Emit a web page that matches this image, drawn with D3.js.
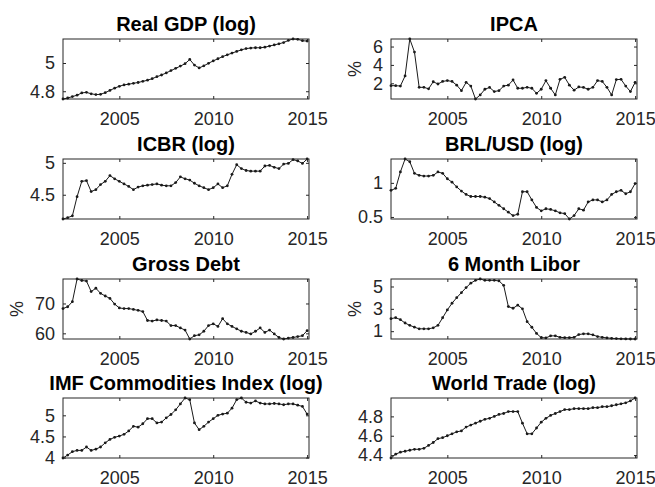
<!DOCTYPE html>
<html lang="en">
<head>
    <meta charset="UTF-8">
    <title>Brazil macro series</title>
    <script src="https://d3js.org/d3.v7.min.js"></script>
    <style>
        body { margin: 0; background: #fff; }
        svg { display: block; font-family: "Liberation Sans", Arial, Helvetica, sans-serif; }
        .tick text { font-size: 18px; fill: #262626; }
        .tick line { stroke: #262626; }
    </style>
</head>
<body>
<div id="chart"></div>
<script>
    // quarterly observations, 2002Q1 - 2015Q1
    const quarters = d3.range(53).map(i => 2002 + i / 4);
    const xTicks = [2005, 2010, 2015];

    const realGdp = [4.745, 4.752, 4.762, 4.772, 4.788, 4.792, 4.782, 4.776, 4.778, 4.79, 4.806, 4.822,
        4.835, 4.845, 4.85, 4.856, 4.862, 4.87, 4.878, 4.889, 4.903, 4.915, 4.93, 4.946,
        4.962, 4.978, 4.995, 5.025, 4.985, 4.965, 4.98, 4.998, 5.015, 5.03, 5.045, 5.058,
        5.07, 5.082, 5.093, 5.102, 5.106, 5.108, 5.108, 5.112, 5.12, 5.128, 5.136, 5.145,
        5.16, 5.17, 5.168, 5.158, 5.155];
    const ipca = [1.74, 1.74, 1.7, 2.8, 6.82, 5.4, 1.56, 1.56, 1.4, 2.17, 1.92, 2.2,
        2.29, 2.2, 1.8, 1.2, 2.1, 1.7, 0.29, 0.73, 1.35, 1.55, 1.1, 1.2,
        1.7, 1.8, 2.36, 1.46, 1.46, 1.56, 1.46, 0.91, 1.35, 2.29, 1.46, 0.73,
        2.43, 2.65, 1.8, 1.25, 1.6, 1.55, 1.35, 1.56, 2.29, 2.2, 1.56, 0.73,
        2.4, 2.43, 1.7, 1.1, 2.1];
    const icbr = [4.12, 4.14, 4.17, 4.47, 4.71, 4.72, 4.55, 4.58, 4.66, 4.71, 4.80, 4.75,
        4.71, 4.67, 4.63, 4.58, 4.62, 4.64, 4.65, 4.66, 4.67, 4.65, 4.64, 4.64,
        4.69, 4.78, 4.75, 4.73, 4.68, 4.64, 4.61, 4.58, 4.61, 4.67, 4.61, 4.64,
        4.82, 4.97, 4.91, 4.88, 4.87, 4.87, 4.87, 4.95, 4.96, 4.93, 4.91, 4.98,
        4.99, 5.05, 5.03, 4.99, 5.06];
    const brlUsd = [0.89, 0.92, 1.16, 1.35, 1.31, 1.14, 1.11, 1.10, 1.10, 1.11, 1.16, 1.14,
        1.06, 1.01, 0.94, 0.88, 0.83, 0.80, 0.80, 0.80, 0.79, 0.77, 0.72, 0.67,
        0.62, 0.57, 0.52, 0.54, 0.87, 0.87, 0.75, 0.64, 0.59, 0.62, 0.61, 0.59,
        0.56, 0.55, 0.47, 0.52, 0.62, 0.60, 0.72, 0.75, 0.75, 0.72, 0.75, 0.83,
        0.87, 0.89, 0.84, 0.87, 0.99];
    const grossDebt = [68.3, 68.9, 70.6, 78.2, 77.7, 77.5, 74.0, 75.1, 73.4, 72.5, 71.7, 69.8,
        68.5, 68.3, 68.3, 68.0, 67.7, 67.3, 64.3, 64.1, 64.5, 64.3, 64.1, 62.6,
        62.6, 61.8, 61.1, 58.1, 59.2, 59.5, 60.7, 62.6, 63.2, 62.3, 64.9, 63.2,
        62.3, 61.5, 60.7, 60.3, 59.8, 60.7, 61.8, 60.3, 61.1, 59.8, 58.6, 58.1,
        58.4, 58.6, 58.9, 59.2, 60.9];
    const libor6m = [2.12, 2.21, 2.03, 1.73, 1.52, 1.36, 1.21, 1.21, 1.21, 1.30, 1.52, 2.2,
        2.9, 3.5, 4.0, 4.45, 4.9, 5.3, 5.55, 5.67, 5.55, 5.55, 5.55, 5.5,
        5.1, 3.2, 3.05, 3.33, 3.0, 1.85, 1.35, 0.8, 0.42, 0.4, 0.58, 0.58,
        0.45, 0.42, 0.42, 0.45, 0.7, 0.76, 0.76, 0.67, 0.52, 0.45, 0.4, 0.36,
        0.34, 0.32, 0.31, 0.3, 0.3];
    const imfCommodities = [3.99, 4.06, 4.14, 4.17, 4.17, 4.25, 4.17, 4.20, 4.25, 4.35, 4.43, 4.48,
        4.51, 4.55, 4.63, 4.74, 4.72, 4.80, 4.92, 4.92, 4.82, 4.84, 4.94, 5.02,
        5.13, 5.27, 5.41, 5.37, 4.82, 4.66, 4.74, 4.84, 4.92, 5.0, 5.03, 5.05,
        5.17, 5.37, 5.41, 5.31, 5.29, 5.34, 5.29, 5.27, 5.27, 5.28, 5.27, 5.25,
        5.27, 5.27, 5.24, 5.21, 5.03];
    const worldTrade = [4.37, 4.41, 4.43, 4.44, 4.45, 4.46, 4.46, 4.47, 4.50, 4.53, 4.57, 4.58,
        4.60, 4.62, 4.64, 4.65, 4.69, 4.71, 4.73, 4.75, 4.77, 4.78, 4.80, 4.82,
        4.83, 4.85, 4.85, 4.85, 4.73, 4.62, 4.62, 4.68, 4.74, 4.78, 4.81, 4.83,
        4.85, 4.87, 4.87, 4.88, 4.88, 4.88, 4.88, 4.89, 4.89, 4.90, 4.90, 4.91,
        4.92, 4.93, 4.94, 4.96, 4.99];

    const panels = [
        { title: "Real GDP (log)", values: realGdp, yTicks: [4.8, 5], unit: "" },
        { title: "IPCA", values: ipca, yTicks: [2, 4, 6], unit: "%" },
        { title: "ICBR (log)", values: icbr, yTicks: [4.5, 5], unit: "" },
        { title: "BRL/USD (log)", values: brlUsd, yTicks: [0.5, 1], unit: "" },
        { title: "Gross Debt", values: grossDebt, yTicks: [60, 70], unit: "%" },
        { title: "6 Month Libor", values: libor6m, yTicks: [1, 3, 5], unit: "%" },
        { title: "IMF Commodities Index (log)", values: imfCommodities, yTicks: [4, 4.5, 5], unit: "" },
        { title: "World Trade (log)", values: worldTrade, yTicks: [4.4, 4.6, 4.8], unit: "" }
    ];

    // subplot grid
    const colLeft = [63, 391], rowTop = [39, 159, 279, 398];
    const w = 246, h = 60;

    const svg = d3.select("#chart").append("svg")
        .attr("width", 655)
        .attr("height", 487);

    panels.forEach((p, i) => {
        const g = svg.append("g")
            .attr("transform", "translate(" + colLeft[i % 2] + "," + rowTop[Math.floor(i / 2)] + ")");

        const x = d3.scaleLinear().domain([2002, 2015.1]).range([0, w]);
        const y = d3.scaleLinear().domain(d3.extent(p.values)).range([h, 0]);

        // ticks on all four sides, pointing inwards
        g.append("g")
            .attr("transform", "translate(0," + h + ")")
            .call(d3.axisBottom(x).tickValues(xTicks).tickFormat(d3.format("d"))
                .tickSizeInner(-3).tickSizeOuter(0).tickPadding(13))
            .call(a => a.select(".domain").remove());
        g.append("g")
            .call(d3.axisTop(x).tickValues(xTicks).tickFormat("").tickSizeInner(-3).tickSizeOuter(0))
            .call(a => a.select(".domain").remove());
        const yAxis = g.append("g")
            .call(d3.axisLeft(y).tickValues(p.yTicks).tickFormat(d => String(d))
                .tickSizeInner(-3).tickSizeOuter(0).tickPadding(8))
            .call(a => a.select(".domain").remove());
        g.append("g")
            .attr("transform", "translate(" + w + ",0)")
            .call(d3.axisRight(y).tickValues(p.yTicks).tickFormat("").tickSizeInner(-3).tickSizeOuter(0))
            .call(a => a.select(".domain").remove());

        g.append("rect")
            .attr("width", w)
            .attr("height", h)
            .attr("fill", "none")
            .attr("stroke", "#262626")
            .attr("stroke-width", 1);

        const line = d3.line()
            .x((d, k) => x(quarters[k]))
            .y(d => y(d));

        g.append("path")
            .datum(p.values)
            .attr("d", line)
            .attr("fill", "none")
            .attr("stroke", "#1a1a1a")
            .attr("stroke-width", 1);

        g.selectAll(".dot")
            .data(p.values)
            .enter().append("circle")
            .attr("class", "dot")
            .attr("cx", (d, k) => x(quarters[k]))
            .attr("cy", d => y(d))
            .attr("r", 1.4)
            .attr("fill", "#1a1a1a");

        g.append("text")
            .attr("x", w / 2)
            .attr("y", -8)
            .attr("text-anchor", "middle")
            .style("font-size", "20px")
            .style("font-weight", "bold")
            .attr("fill", "#000")
            .text(p.title);

        if (p.unit) {
            const bb = yAxis.node().getBBox();
            g.append("text")
                .attr("transform", "translate(" + (bb.x - 12) + "," + (h / 2) + ") rotate(-90)")
                .attr("text-anchor", "middle")
                .style("font-size", "18px")
                .attr("fill", "#262626")
                .text(p.unit);
        }
    });
</script>
</body>
</html>
